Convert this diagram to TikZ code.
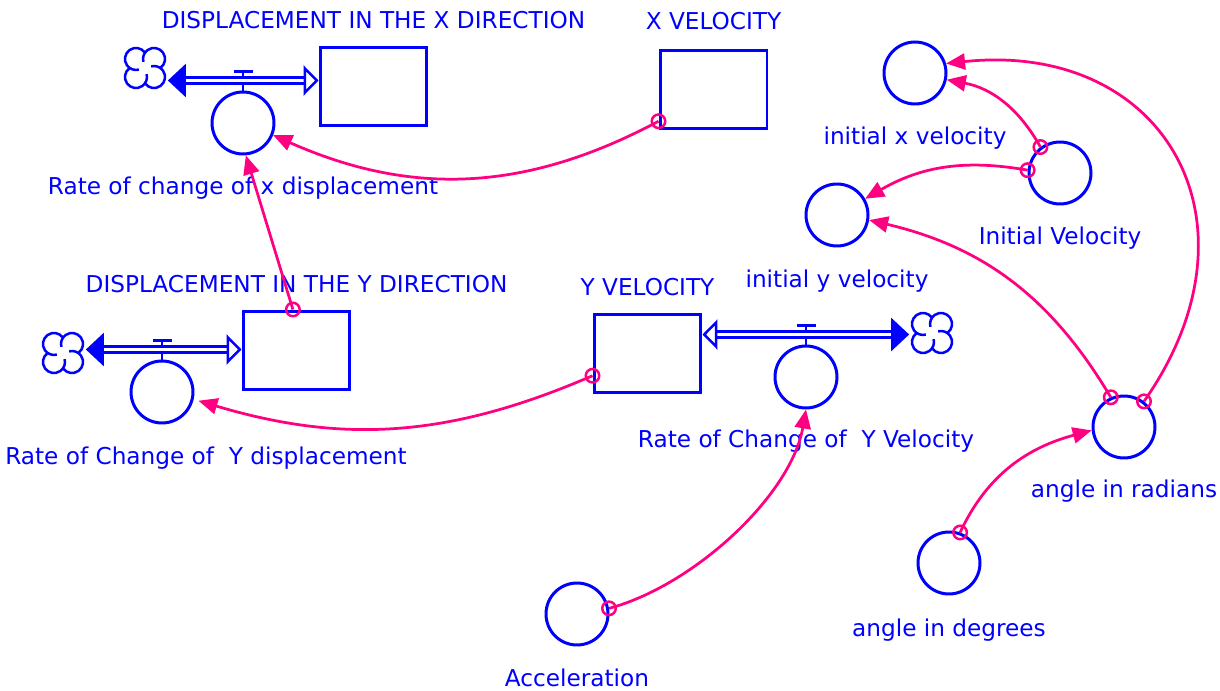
\documentclass[tikz,border=0pt]{standalone}
\usepackage{fontspec}
\setmainfont{DejaVu Sans}
\usetikzlibrary{positioning,arrows.meta}
\definecolor{vblue}{RGB}{0,0,255}
\definecolor{vlink}{RGB}{255,0,128}
\tikzset{
  stock/.style={draw=vblue, line width=0.6mm, minimum width=21.4mm, minimum height=15.8mm},
  aux/.style={circle, draw=vblue, line width=0.6mm, minimum size=12.4mm, inner sep=0pt},
  lbl/.style={text=vblue, inner sep=0pt, text height=0.75em, text depth=0.25em, font=\fontsize{13.2}{15}\selectfont},
  flowline/.style={draw=vblue, line width=0.5mm},
  pipe/.style={draw=vblue, line width=0.5mm, double=white, double distance=0.7mm,
    {Triangle[length=3.6mm,width=6.6mm]}-{Triangle[open,length=3mm,width=6mm]}},
  cloud/.style={minimum size=9mm, inner sep=0pt, path picture={
    \foreach \a in {45,135,225,315}
      \draw[flowline] ([shift={(\a:2.55mm)}]path picture bounding box.center)
        ++(\a-100:2.2mm) arc[start angle=\a-100, end angle=\a+150, radius=2.2mm];
  }},
  link/.style={vlink, line width=0.55mm, -{Triangle[length=3.8mm,width=3.2mm]}},
  ring/.style={circle, draw=vlink, line width=0.5mm, minimum size=2.7mm, inner sep=0pt}
}
\begin{document}
\begin{tikzpicture}[x=0.02cm, y=0.02cm]
\useasboundingbox (0,0) rectangle (1220,690);
% stocks
\node[stock] (xd) at (373.5,603.5) {};
\node[stock] (xvel) at (713.5,600.5) {};
\node[stock] (yd) at (296.5,339.5) {};
\node[stock] (yvel) at (647.5,336.5) {};
% rates
\node[aux] (rx) at (243,567) {};
\node[aux] (ryd) at (162,298) {};
\node[aux] (rdv) at (806,313) {};
% auxiliaries
\node[aux] (ixv) at (915,617) {};
\node[aux] (iv) at (1060,517) {};
\node[aux] (iyv) at (837,475) {};
\node[aux] (rad) at (1124,263) {};
\node[aux] (deg) at (949,127) {};
\node[aux] (acc) at (577,76) {};
% clouds
\node[cloud] (c1) at (145,622) {};
\node[cloud] (c2) at (63,337) {};
\node[cloud] (c3) at (932,357) {};
% labels
\node[lbl, above=2.4mm of xd] (xdl) {DISPLACEMENT IN THE X DIRECTION};
\node[lbl, above=2.8mm of xvel] (xvell) {X VELOCITY};
\node[lbl, above=2.4mm of yd] (ydl) {DISPLACEMENT IN THE Y DIRECTION};
\node[lbl, above=2.4mm of yvel] (yvell) {Y VELOCITY};
\node[lbl, below=5mm of rx] (rxl) {Rate of change of x displacement};
\node[lbl, below=5.2mm of ryd, xshift=8.8mm] (rydl) {Rate of Change of\ \ Y displacement};
\node[lbl, below=4.8mm of rdv] (rdvl) {Rate of Change of\ \ Y Velocity};
\node[lbl, below=5mm of ixv] (ixvl) {initial x velocity};
\node[lbl, below=5mm of iv] (ivl) {Initial Velocity};
\node[lbl, below=5.2mm of iyv] (iyvl) {initial y velocity};
\node[lbl, below=4.8mm of rad] (radl) {angle in radians};
\node[lbl, below=5.4mm of deg] (degl) {angle in degrees};
\node[lbl, below=5.2mm of acc] (accl) {Acceleration};
% valves
\foreach \r in {rx,ryd,rdv}
  \draw[flowline] (\r.north) -- ++(0,19) ++(-9.5,0) -- ++(19,0);
\coordinate[above=2mm of rx.north] (vx);
\coordinate[above=2mm of ryd.north] (vyd);
\coordinate[above=2mm of rdv.north] (vdv);
% flows
\draw[pipe] (c1.east |- vx) -- (xd.west |- vx);
\draw[pipe] (c2.east |- vyd) -- (yd.west |- vyd);
\draw[pipe] (c3.west |- vdv) -- (yvel.east |- vdv);
% links
\draw[link] (xvel.210) to[bend left=26] node[ring, at start] {} (rx.-22);
\draw[link] (yd.95) -- node[ring, at start] {} (rx.-85);
\draw[link, shorten >=1mm] (yvel.202) to[bend left=20] node[ring, at start] {} (ryd.-13);
\draw[link] (acc.10) to[out=15, in=-100, looseness=0.8] node[ring, at start] {} (rdv.south);
\draw[link] (deg.70) to[out=65, in=195] node[ring, at start] {} (rad.186);
\draw[link] (iv.127) to[bend right=25] node[ring, at start] {} (ixv.-12);
\draw[link] (iv.175) to[bend right=20] node[ring, at start] {} (iyv.30);
\draw[link] (rad.114) to[bend right=23] node[ring, at start] {} (iyv.-9);
\draw[link] (rad.52) to[out=55, in=6, looseness=1.43] node[ring, at start] {} (ixv.17);
\end{tikzpicture}
\end{document}
